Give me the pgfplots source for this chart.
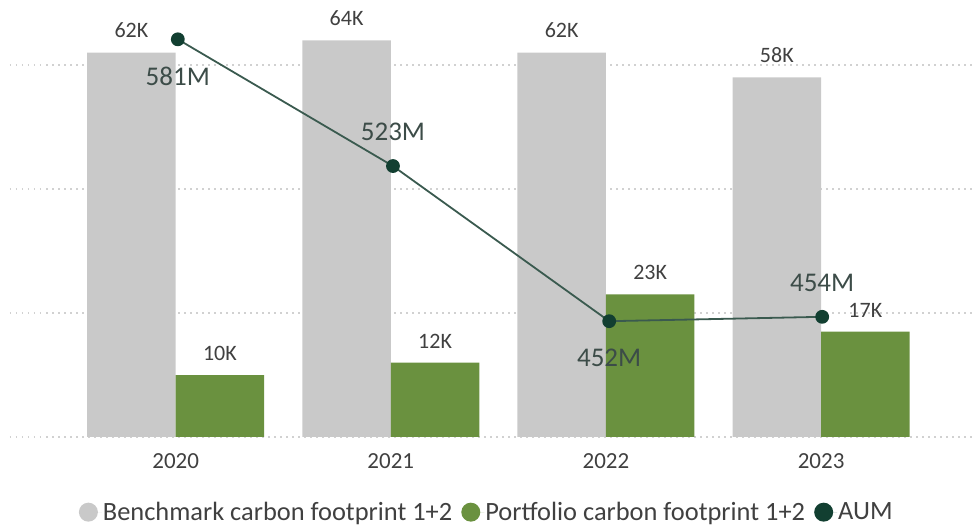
\documentclass[border=0pt]{standalone}
\usepackage{pgfplots}
\pgfplotsset{compat=1.18}
\usepackage{fontspec}
\setmainfont{Carlito}
\definecolor{bench}{HTML}{C9C9C9}
\definecolor{port}{HTML}{6A913F}
\definecolor{aum}{HTML}{123F31}
\definecolor{aumline}{HTML}{3A5A4F}
\definecolor{txt}{HTML}{404040}
\definecolor{aumtxt}{HTML}{3C4C48}
\begin{document}
\begin{tikzpicture}
\useasboundingbox (0,0) rectangle (976pt,532pt);
\begin{axis}[
  at={(10pt,95pt)}, anchor=south west,
  scale only axis, width=966pt, height=437pt,
  xmin=-0.77, xmax=3.72, ymin=0, ymax=70.5,
  axis line style={draw=none},
  xtick={0,1,2,3}, xticklabels={2020,2021,2022,2023},
  ytick={0,20,40,60}, yticklabels={},
  major tick length=0pt,
  ymajorgrids,
  grid style={dash pattern=on 1.5pt off 4.5pt, line width=1.5pt, color=black!18},
  xticklabel style={font=\fontsize{23}{26}\selectfont, text=txt, yshift=-13pt},
  legend style={at={(0.493,-0.172)}, anchor=center, draw=none, fill=none,
    legend columns=3, font=\fontsize{26.4}{30}\selectfont, text=txt,
    /tikz/every even column/.append style={column sep=8pt},
    /tikz/every odd column/.append style={column sep=0pt},
    nodes={inner xsep=1pt}},
  legend image code/.code={\fill[#1] (9.5pt,0pt) circle (9.5pt); \path (0pt,0pt) -- (23pt,0pt);},
]
\addlegendimage{fill=bench, draw=none}
\addlegendentry{Benchmark carbon footprint 1+2}
\addlegendimage{fill=port, draw=none}
\addlegendentry{Portfolio carbon footprint 1+2}
\addlegendimage{fill=aum, draw=none}
\addlegendentry{AUM}
\addplot[ybar, bar width=88.5pt, bar shift=-44.25pt, fill=bench, draw=none, forget plot,
  nodes near coords, point meta=explicit symbolic,
  every node near coord/.append style={font=\fontsize{22}{26}\selectfont, text=txt, yshift=11pt, xshift=-44.25pt}]
  coordinates {(0,62) [62K] (1,64) [64K] (2,62) [62K] (3,58) [58K]};
\addplot[ybar, bar width=88.5pt, bar shift=44.25pt, fill=port, draw=none, forget plot,
  nodes near coords, point meta=explicit symbolic,
  every node near coord/.append style={font=\fontsize{22}{26}\selectfont, text=txt, yshift=11pt, xshift=44.25pt}]
  coordinates {(0,10) [10K] (1,12) [12K] (2,23) [23K] (3,17) [17K]};
\end{axis}
\begin{axis}[
  at={(10pt,95pt)}, anchor=south west,
  scale only axis, width=966pt, height=437pt,
  xmin=-0.77, xmax=3.72, ymin=399, ymax=599,
  hide axis, clip=false,
]
\addplot[aumline, line width=1.8pt, mark=*, mark size=6pt, mark options={fill=aum, draw=aum}]
  coordinates {(0.01,581) (1.01,523) (2.015,452) (3.005,454)};
\addplot[draw=none, mark=none, nodes near coords, point meta=explicit symbolic,
  every node near coord/.append style={anchor=center, yshift=-37pt, font=\fontsize{27}{30}\selectfont, text=aumtxt}]
  coordinates {(0.01,581) [581M] (2.015,452) [452M]};
\addplot[draw=none, mark=none, nodes near coords, point meta=explicit symbolic,
  every node near coord/.append style={anchor=center, yshift=34pt, font=\fontsize{27}{30}\selectfont, text=aumtxt}]
  coordinates {(1.01,523) [523M] (3.005,454) [454M]};
\end{axis}
\end{tikzpicture}
\end{document}
